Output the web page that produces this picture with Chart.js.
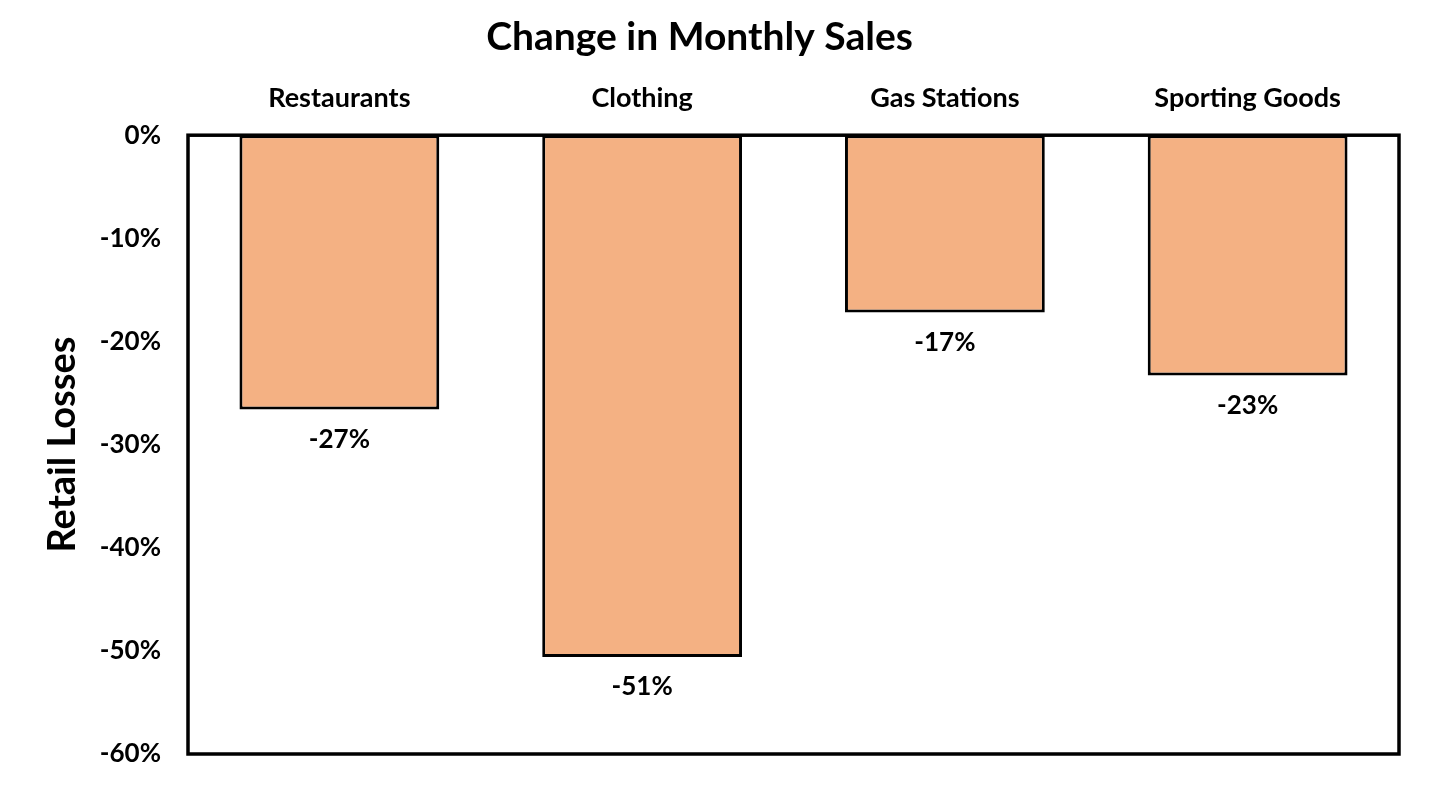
<!DOCTYPE html>
<html>
<head>
<meta charset="utf-8">
<script src="https://cdn.jsdelivr.net/npm/chart.js@4"></script>
<style>
    body { margin: 0; background: #fff; }
    #wrap { width: 1430px; height: 804px; }
</style>
</head>
<body>
<div id="wrap"><canvas id="salesChart" width="1430" height="804"></canvas></div>
<script>
const categories = ["Restaurants", "Clothing", "Gas Stations", "Sporting Goods"];
const changes = [-26.6, -50.6, -17.2, -23.3];
const yTicks = [0, -10, -20, -30, -40, -50, -60];

const FONT = "Lato, 'Open Sans', sans-serif";

// box round the plot area + value labels under each bar
const boxAndLabels = {
    id: "boxAndLabels",
    afterDatasetsDraw(chart) {
        const { ctx, chartArea } = chart;
        ctx.save();
        ctx.strokeStyle = "#000";
        ctx.lineWidth = 3.5;
        ctx.strokeRect(chartArea.left, chartArea.top, chartArea.right - chartArea.left, chartArea.bottom - chartArea.top);

        ctx.fillStyle = "#000";
        ctx.font = "bold 26px " + FONT;
        ctx.textAlign = "center";
        ctx.textBaseline = "middle";
        chart.getDatasetMeta(0).data.forEach((bar, i) => {
            ctx.fillText(Math.round(changes[i]) + "%", bar.x, bar.y + 30);
        });
        ctx.restore();
    }
};

new Chart(document.getElementById("salesChart"), {
    type: "bar",
    data: {
        labels: categories,
        datasets: [{
            data: changes,
            backgroundColor: "#F4B183",
            borderColor: "#000",
            borderWidth: 3,
            borderSkipped: false,
            barPercentage: 0.66,
            categoryPercentage: 1
        }]
    },
    options: {
        responsive: false,
        animation: false,
        layout: { padding: { top: 0, right: 31, bottom: 50, left: 0 } },
        plugins: {
            legend: { display: false },
            tooltip: { enabled: false },
            title: {
                display: true,
                text: "Change in Monthly Sales",
                color: "#000",
                font: { family: FONT, size: 39, weight: "bold" },
                padding: { top: 14, bottom: 0 }
            }
        },
        scales: {
            x: {
                position: "top",
                grid: { display: false, drawTicks: false },
                border: { display: false },
                ticks: {
                    color: "#000",
                    padding: 21,
                    font: { family: FONT, size: 27, weight: "bold" }
                }
            },
            y: {
                min: -60,
                max: 0,
                afterBuildTicks(scale) {
                    scale.ticks = yTicks.map(v => ({ value: v }));
                },
                afterFit(scale) {
                    scale.width = 188;
                },
                grid: { display: false, drawTicks: false },
                border: { display: false },
                ticks: {
                    color: "#000",
                    padding: 27,
                    font: { family: FONT, size: 26, weight: "bold" },
                    callback: v => v + "%"
                },
                title: {
                    display: true,
                    text: "Retail Losses",
                    color: "#000",
                    font: { family: FONT, size: 38, weight: "bold" },
                    padding: { top: 40, bottom: 0 }
                }
            }
        }
    },
    plugins: [boxAndLabels]
});
</script>
</body>
</html>
